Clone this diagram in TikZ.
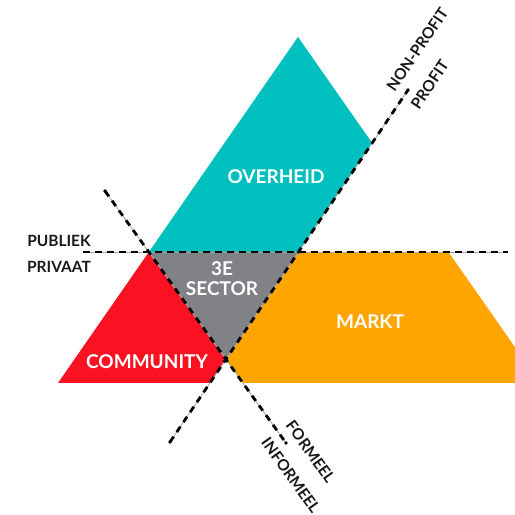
\documentclass[tikz,border=0pt]{standalone}
\usepackage{fontspec}
\setmainfont{Lato}
\begin{document}
\begin{tikzpicture}[x=1pt,y=1pt,
	sectorlabel/.style={text=white,font=\bfseries\fontsize{19}{20}\selectfont,align=center,inner sep=0pt},
	axislabel/.style={text=black!90,font=\bfseries\fontsize{15.5}{16}\selectfont,inner sep=0pt},
	axisline/.style={draw=black!35,line width=0.8pt},
	axisdash/.style={draw=black,line width=2.8pt,dash pattern=on 6.5pt off 5.5pt}]
		
		% Define colors
		\definecolor{overheidcolor}{RGB}{0, 191, 191}
		\definecolor{communitycolor}{RGB}{250, 18, 35}
		\definecolor{marktcolor}{RGB}{255, 165, 0}
		\definecolor{sectorcolor}{RGB}{128, 130, 134}
		
		\clip (0,0) rectangle (515,515);
		
		% Corners of the big triangle
		\coordinate (apex) at (298,478);
		\coordinate (left) at (58,132);
		\coordinate (right) at (540,132);
		
		% Ends of the three dividing lines
		\coordinate (hleft) at (83,263);
		\coordinate (hright) at (508,263);
		\coordinate (fup) at (105,324);
		\coordinate (fdown) at (286,72);
		\coordinate (pdown) at (170,73);
		\coordinate (pup) at (408,425);
		
		% Crossing points
		\coordinate (pl) at (intersection of apex--left and hleft--hright);
		\coordinate (pr) at (intersection of pdown--pup and hleft--hright);
		\coordinate (mid) at (intersection of fup--fdown and pdown--pup);
		\coordinate (q) at (intersection of apex--right and pdown--pup);
		\coordinate (hr) at (intersection of apex--right and hleft--hright);
		\coordinate (bl) at (intersection of pdown--pup and left--right);
		\coordinate (br) at (intersection of fup--fdown and left--right);
		
		% Draw the four parts
		\fill[overheidcolor] (apex) -- (pl) -- (pr) -- (q) -- cycle;
		\fill[sectorcolor] (pl) -- (pr) -- (mid) -- cycle;
		\fill[communitycolor] (pl) -- (mid) -- (bl) -- (left) -- cycle;
		\fill[marktcolor] (pr) -- (hr) -- (right) -- (br) -- (mid) -- cycle;
		
		% Draw the dividing lines
		\draw[axisline] (hleft) -- (hright);
		\draw[axisline] (fup) -- (fdown);
		\draw[axisline] (pdown) -- (pup);
		\draw[axisdash] (hleft) -- (hright);
		\draw[axisdash] (fup) -- (fdown);
		\draw[axisdash] (pdown) -- (pup);
		\fill (fup) circle (1.8) (fdown) circle (1.8) (pdown) circle (1.8) (pup) circle (1.8);
		
		% Add sector names
		\node[sectorlabel] (overheid) at (276,338) {OVERHEID};
		\node[sectorlabel] (markt) at (370,193) {MARKT};
		\node[sectorlabel] (community) at (147,153) {COMMUNITY};
		\node[sectorlabel] (sector) at (222,236) {3E\\SECTOR};
		
		% Add line names
		\node[axislabel] (publiek) at (59,274) {PUBLIEK};
		\node[axislabel] (privaat) at (59,248) {PRIVAAT};
		\path (pdown) -- (pup)
			node[axislabel,sloped,pos=1.091,above=9pt] (nonprofit) {NON-PROFIT}
			node[axislabel,sloped,pos=1.039,below=9pt] (profit) {PROFIT};
		\path (fup) -- (fdown)
			node[axislabel,sloped,pos=1.069,above=9pt] (formeel) {FORMEEL}
			node[axislabel,sloped,pos=1.094,below=9pt] (informeel) {INFORMEEL};
	\end{tikzpicture}
\end{document}
